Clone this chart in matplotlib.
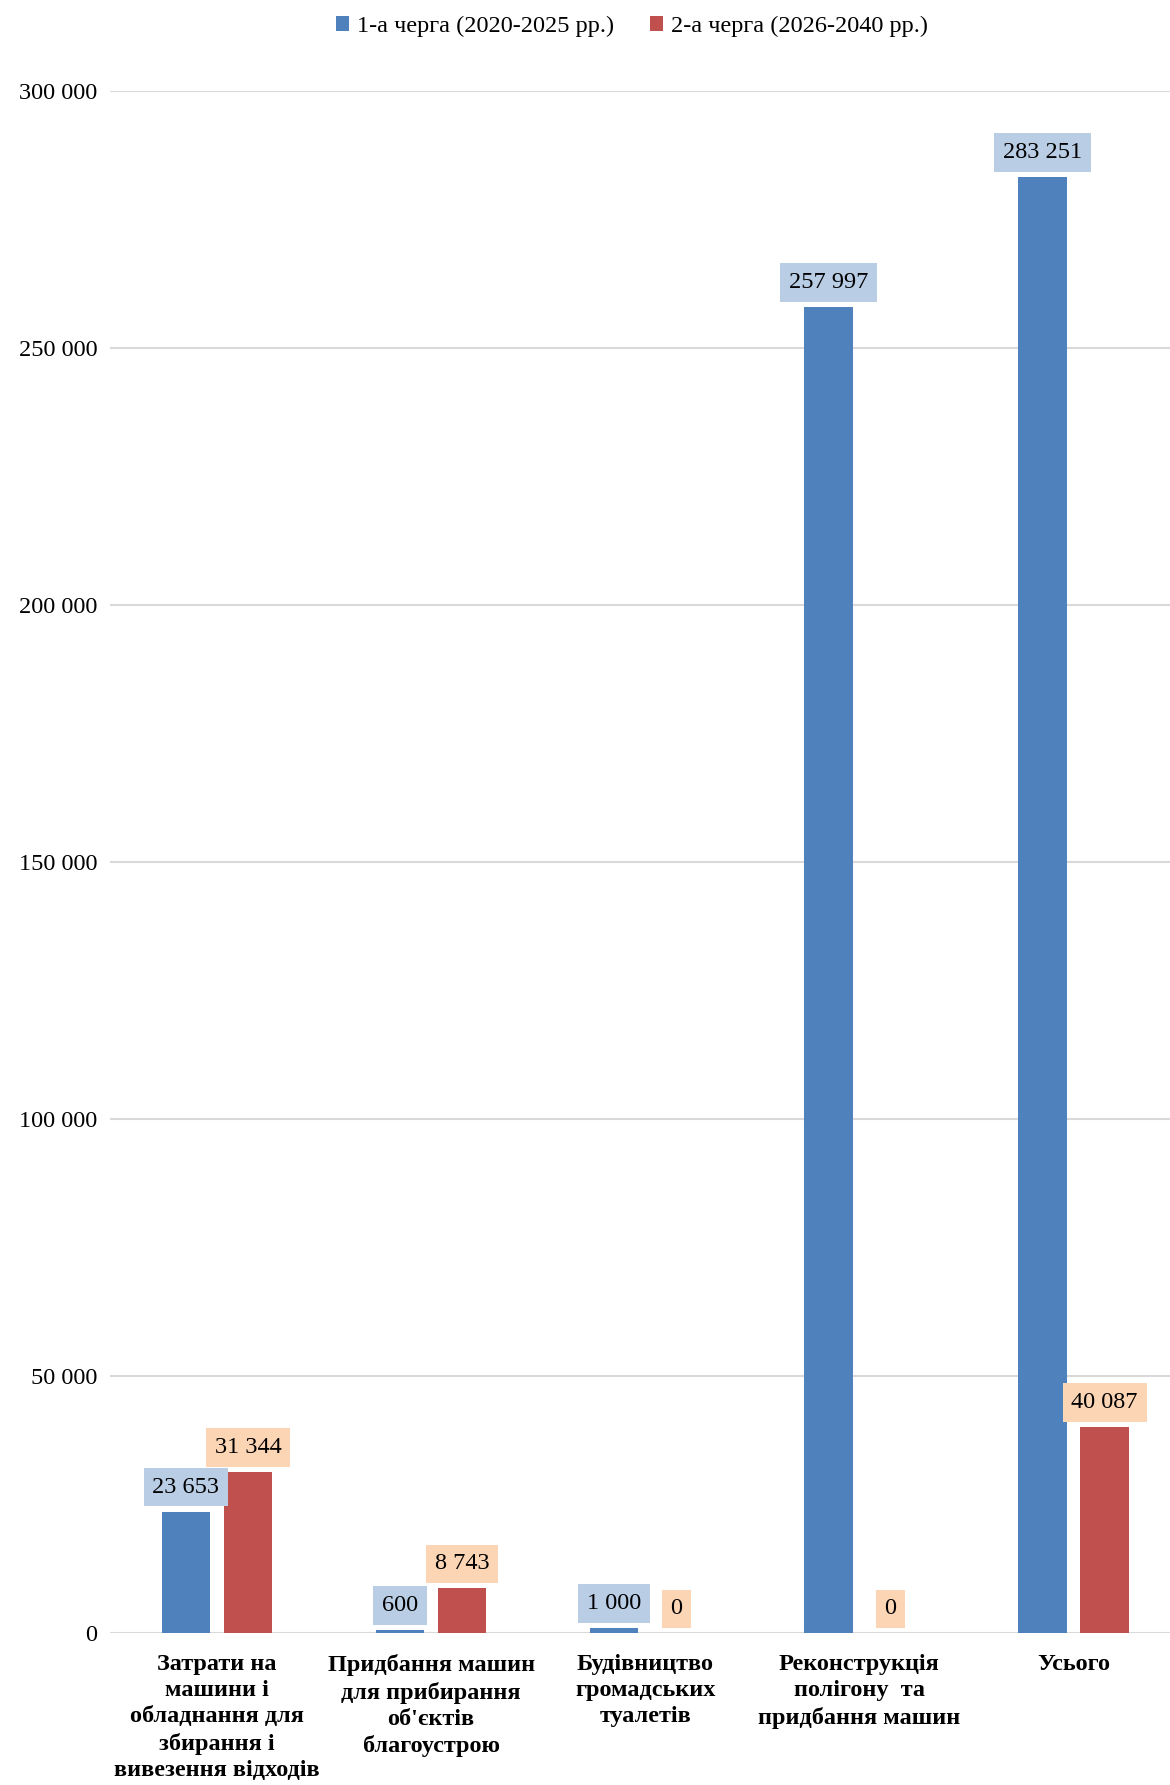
import numpy as np
import matplotlib.pyplot as plt
from matplotlib.ticker import FuncFormatter

categories = [
    "Затрати на\nмашини і\nобладнання для\nзбирання і\nвивезення відходів",
    "Придбання машин\nдля прибирання\nоб'єктів\nблагоустрою",
    "Будівництво\nгромадських\nтуалетів",
    "Реконструкція\nполігону  та\nпридбання машин",
    "Усього",
]
stage1 = [23653, 600, 1000, 257997, 283251]
stage2 = [31344, 8743, 0, 0, 40087]
series_names = ["1-а черга (2020-2025 рр.)", "2-а черга (2026-2040 рр.)"]

plt.rcParams['font.family'] = ['Liberation Serif', 'DejaVu Serif']

blue, red = "#4F81BD", "#C0504D"
blue_lbl, red_lbl = "#B9CDE5", "#FCD5B5"
fs = 17.5

fig = plt.figure(figsize=(11.7, 17.85), dpi=100)
ax = fig.add_axes([0.094, 0.085, 0.915, 0.864])

x = np.arange(len(categories))
w = 0.226
off = 0.145
b1 = ax.bar(x - off, stage1, w, color=blue, label=series_names[0], zorder=3)
b2 = ax.bar(x + off, stage2, w, color=red, label=series_names[1], zorder=3)

def fmt(v):
    return f"{v:,.0f}".replace(",", " ")

for bars, vals, bg in ((b1, stage1, blue_lbl), (b2, stage2, red_lbl)):
    for rect, v in zip(bars, vals):
        cx = rect.get_x() + rect.get_width() / 2
        ax.annotate(fmt(v), (cx, v), xytext=(0, 14), textcoords='offset pixels',
                    ha='center', va='bottom', fontsize=fs, zorder=4,
                    bbox=dict(boxstyle='square,pad=0.36', fc=bg, ec='none'))

ax.set_ylim(0, 300000)
ax.set_xlim(-0.5, len(categories) - 0.5)
ax.set_yticks(np.arange(0, 300001, 50000))
ax.yaxis.set_major_formatter(FuncFormatter(lambda v, p: fmt(v)))
ax.grid(axis='y', color='#D9D9D9', lw=1.5, zorder=0)
ax.set_axisbelow(True)
for s in ax.spines.values():
    s.set_visible(False)
ax.tick_params(axis='y', length=0, labelsize=fs, pad=9)
ax.tick_params(axis='x', length=0, pad=15)
ax.set_xticks(x)
ax.set_xticklabels(categories, fontsize=fs, fontweight='bold', linespacing=1.32, va='top')

fig.legend(loc='center', bbox_to_anchor=(0.54, 0.985), ncol=2, frameon=False,
           fontsize=fs, handlelength=0.55, handleheight=0.55, handletextpad=0.3,
           columnspacing=1.5)

fig.savefig("out.png", dpi=100)
